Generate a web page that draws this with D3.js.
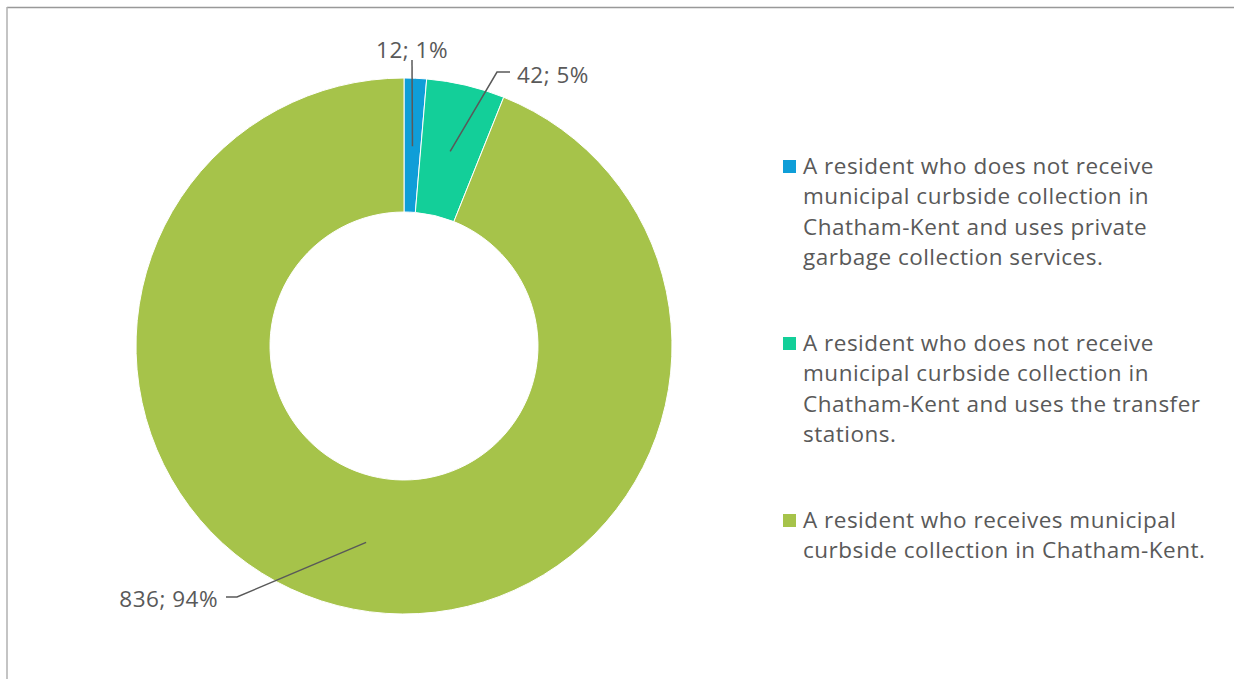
<!DOCTYPE html>
<html>
<head>
<meta charset="utf-8">
<script src="https://cdn.jsdelivr.net/npm/d3@7"></script>
<style>
  html, body { margin: 0; padding: 0; background: #fff; }
  svg { display: block; }
  text { font-family: "Open Sans", Lato, sans-serif; fill: #595959; letter-spacing: 0.5px; }
</style>
</head>
<body>
<div id="chart"></div>
<script>
const categories = [
  'A resident who does not receive municipal curbside collection in Chatham-Kent and uses private garbage collection services.',
  'A resident who does not receive municipal curbside collection in Chatham-Kent and uses the transfer stations.',
  'A resident who receives municipal curbside collection in Chatham-Kent.'
];
const counts   = [12, 42, 836];
const percents = ['1%', '5%', '94%'];
const legendLines = [
  ['A resident who does not receive', 'municipal curbside collection in', 'Chatham-Kent and uses private', 'garbage collection services.'],
  ['A resident who does not receive', 'municipal curbside collection in', 'Chatham-Kent and uses the transfer', 'stations.'],
  ['A resident who receives municipal', 'curbside collection in Chatham-Kent.']
];
const colors = ['#0f9ed8', '#13cf99', '#a6c34a'];

const width  = 1234,
      height = 679,
      cx     = 404,
      cy     = 346,
      outerR = 268,
      innerR = 134,
      fontSize = 22.5;

const svg = d3.select('#chart').append('svg')
  .attr('width', width)
  .attr('height', height);

// frame (only top and left edges are visible in the crop)
svg.append('line').attr('x1', 7).attr('x2', width).attr('y1', 7.5).attr('y2', 7.5)
  .attr('stroke', '#999').attr('stroke-width', 1.3);
svg.append('line').attr('x1', 7).attr('x2', 7).attr('y1', 7).attr('y2', height)
  .attr('stroke', '#b0b0b0').attr('stroke-width', 1.5);

const pie = d3.pie().sort(null).value(d => d);
const arcs = pie(counts);

const arc = d3.arc().innerRadius(innerR).outerRadius(outerR);
const mid = d3.arc().innerRadius(200).outerRadius(200);

const g = svg.append('g').attr('transform', `translate(${cx},${cy})`);

g.selectAll('path.slice')
  .data(arcs)
  .enter().append('path')
  .attr('class', 'slice')
  .attr('d', arc)
  .attr('fill', (d, i) => colors[i])
  .attr('stroke', '#fff')
  .attr('stroke-width', 1);

// data label placement relative to the donut centre
const labelSpots = [
  {elbow: [8, -286], end: [8, -286], tx: 8, ty: -288, anchor: 'middle'},
  {elbow: [93, -274], end: [106, -274], tx: 113, ty: -263, anchor: 'start'},
  {elbow: [-167, 251], end: [-178, 251], tx: -186, ty: 261, anchor: 'end'}
];

const labels = g.selectAll('g.label')
  .data(arcs)
  .enter().append('g')
  .attr('class', 'label');

labels.append('polyline')
  .attr('points', (d, i) => {
    const s = labelSpots[i];
    return [mid.centroid(d), s.elbow, s.end].map(p => p.join(',')).join(' ');
  })
  .attr('fill', 'none')
  .attr('stroke', '#595959')
  .attr('stroke-width', 1.5);

labels.append('text')
  .attr('x', (d, i) => labelSpots[i].tx)
  .attr('y', (d, i) => labelSpots[i].ty)
  .attr('text-anchor', (d, i) => labelSpots[i].anchor)
  .style('font-size', fontSize + 'px')
  .text((d, i) => `${counts[i]}; ${percents[i]}`);

// legend
const legendTop = [166, 343, 520];
const lineH = 30.5;

const legend = svg.append('g').attr('class', 'legend');
const item = legend.selectAll('g')
  .data(categories)
  .enter().append('g')
  .attr('transform', (d, i) => `translate(783,${legendTop[i]})`);

item.append('rect')
  .attr('x', 0).attr('y', -6)
  .attr('width', 13).attr('height', 13)
  .attr('fill', (d, i) => colors[i]);

item.append('text')
  .attr('x', 20)
  .attr('y', 0)
  .style('font-size', fontSize + 'px')
  .selectAll('tspan')
  .data((d, i) => legendLines[i])
  .enter().append('tspan')
  .attr('x', 20)
  .attr('y', (d, j) => j * lineH)
  .attr('dy', '0.35em')
  .text(d => d);
</script>
</body>
</html>
